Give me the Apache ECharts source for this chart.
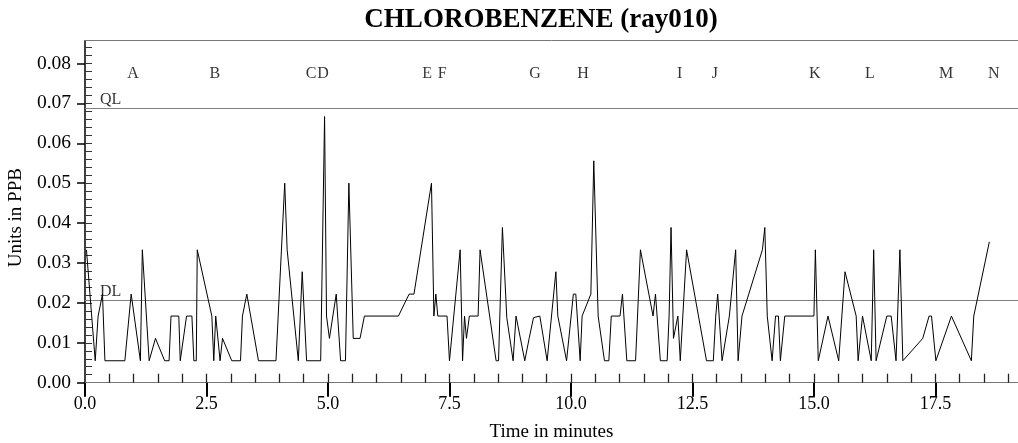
<!DOCTYPE html>
<html>
<head>
<meta charset="utf-8">
<script src="https://cdn.jsdelivr.net/npm/echarts@6/dist/echarts.min.js"></script>
<style>html,body{margin:0;padding:0;background:#fff}#c{width:1018px;height:443px}</style>
</head>
<body>
<div id="c"></div>
<script>
// ---- data ----
const times = [0.03,0.21,0.27,0.36,0.41,0.82,0.95,1.14,1.18,1.32,1.45,1.64,1.73,1.77,1.93,1.96,2.09,2.20,2.24,2.29,
  2.31,2.61,2.65,2.69,2.78,2.83,3.02,3.20,3.24,3.33,3.57,3.93,4.11,4.16,4.39,4.42,4.47,4.56,4.85,4.93,
  4.97,5.03,5.17,5.26,5.36,5.43,5.52,5.66,5.75,6.45,6.67,6.77,7.13,7.18,7.22,7.26,7.45,7.50,7.72,7.77,
  7.81,7.85,7.91,8.09,8.13,8.46,8.51,8.59,8.68,8.72,8.81,8.87,9.05,9.14,9.18,9.23,9.36,9.51,9.55,9.69,
  9.73,9.91,10.05,10.10,10.19,10.23,10.41,10.47,10.56,10.69,10.78,10.83,11.01,11.06,11.15,11.33,11.43,11.47,11.69,11.74,
  11.84,11.98,12.02,12.06,12.11,12.20,12.25,12.29,12.38,12.79,12.93,12.98,13.02,13.11,13.26,13.39,13.44,13.52,13.94,13.99,
  14.04,14.07,14.14,14.18,14.21,14.27,14.31,14.40,15.00,15.03,15.09,15.29,15.31,15.51,15.64,15.87,15.91,16.00,16.18,16.23,
  16.28,16.50,16.59,16.69,16.77,16.83,17.24,17.37,17.42,17.51,17.83,18.24,18.29,18.61];
const values = [0.0333,0.0055,0.0167,0.0222,0.0055,0.0055,0.0222,0.0055,0.0333,0.0055,0.0111,0.0055,0.0055,0.0167,0.0167,0.0055,0.0167,0.0167,0.0055,0.0055,
  0.0333,0.0167,0.0055,0.0167,0.0055,0.0111,0.0055,0.0055,0.0167,0.0222,0.0055,0.0055,0.0500,0.0333,0.0055,0.0055,0.0278,0.0055,0.0055,0.0667,
  0.0167,0.0111,0.0222,0.0055,0.0055,0.0500,0.0111,0.0111,0.0167,0.0167,0.0222,0.0222,0.0500,0.0167,0.0222,0.0167,0.0167,0.0055,0.0333,0.0055,
  0.0167,0.0111,0.0167,0.0167,0.0333,0.0055,0.0055,0.0389,0.0163,0.0167,0.0055,0.0167,0.0055,0.0111,0.0111,0.0163,0.0167,0.0055,0.0055,0.0278,
  0.0167,0.0055,0.0222,0.0222,0.0055,0.0167,0.0222,0.0556,0.0167,0.0055,0.0055,0.0167,0.0167,0.0222,0.0055,0.0055,0.0333,0.0333,0.0167,0.0222,
  0.0055,0.0055,0.0167,0.0389,0.0111,0.0167,0.0055,0.0055,0.0333,0.0055,0.0055,0.0167,0.0222,0.0055,0.0167,0.0333,0.0055,0.0167,0.0333,0.0389,
  0.0167,0.0167,0.0055,0.0055,0.0167,0.0167,0.0055,0.0167,0.0167,0.0333,0.0055,0.0167,0.0163,0.0055,0.0278,0.0167,0.0055,0.0167,0.0055,0.0333,
  0.0055,0.0167,0.0167,0.0055,0.0333,0.0055,0.0111,0.0167,0.0167,0.0055,0.0167,0.0055,0.0167,0.0353];
const peakNames = ['A','B','C','D','E','F','G','H','I','J','K','L','M','N'];
const peakTimes = [0.99,2.67,4.65,4.90,7.04,7.35,9.26,10.25,12.24,12.96,15.02,16.15,17.72,18.70];
const peakLabelLevel = 0.0774;
const limitNames = ['QL','DL'];
const limitValues = [0.0687,0.0206];
const xMajorTicks = [0,2.5,5,7.5,10,12.5,15,17.5];
const xMinorTicks = [0.5,1,1.5,2,2.5,3,3.5,4,4.5,5,5.5,6,6.5,7,7.5,8,8.5,9,9.5,10,10.5,11,11.5,12,12.5,13,13.5,14,14.5,15,15.5,16,16.5,17,17.5,18,18.5,19];
const yMajorTicks = [0,0.01,0.02,0.03,0.04,0.05,0.06,0.07,0.08];
const yMinorTicks = [0.002,0.004,0.006,0.008,0.01,0.012,0.014,0.016,0.018,0.02,0.022,0.024,0.026,0.028,0.03,0.032,0.034,0.036,0.038,0.04,
  0.042,0.044,0.046,0.048,0.05,0.052,0.054,0.056,0.058,0.06,0.062,0.064,0.066,0.068,0.07,0.072,0.074,0.076,0.078,0.08,0.082,0.084];
const xMin = 0, xMax = 19.2, yMin = 0, yMax = 0.0857;
const limitLabelTime = 0.31;

// ---- chart ----
const FONT = '"Liberation Serif","Times New Roman",serif';
const chart = echarts.init(document.getElementById('c'));
const gridBox = {left: 85, top: 40.7, right: 0, bottom: 60.3, containLabel: false, outerBoundsMode: 'none'};
const lineData = times.map((t, i) => [t, values[i]]);
const letterData = peakTimes.map((t, i) => ({value: [t, peakLabelLevel], name: peakNames[i]}));
const limitLabelData = limitNames.map((n, i) => ({value: [limitLabelTime, limitValues[i]], name: n}));

chart.setOption({
  animation: false,
  backgroundColor: '#fff',
  title: {
    text: 'CHLOROBENZENE (ray010)',
    left: 536, top: 2, textAlign: 'center',
    textStyle: {fontFamily: FONT, fontWeight: 'bold', fontSize: 27, color: '#000'}
  },
  grid: [Object.assign({}, gridBox), Object.assign({}, gridBox)],
  xAxis: [
    {gridIndex: 0, type: 'value', min: xMin, max: xMax, position: 'bottom',
      axisLine: {show: true, onZero: false, lineStyle: {color: '#777', width: 1}},
      axisTick: {show: true, inside: true, length: 9, customValues: xMinorTicks, lineStyle: {color: '#222', width: 1.3}},
      axisLabel: {show: false}, splitLine: {show: false}},
    {gridIndex: 0, type: 'value', min: xMin, max: xMax, position: 'top',
      axisLine: {show: true, onZero: false, lineStyle: {color: '#777', width: 1}},
      axisTick: {show: false}, axisLabel: {show: false}, splitLine: {show: false}},
    {gridIndex: 1, type: 'value', min: xMin, max: xMax, position: 'bottom',
      axisLine: {show: false},
      axisTick: {show: true, inside: false, length: 14, customValues: xMajorTicks, lineStyle: {color: '#000', width: 2}},
      axisLabel: {show: true, customValues: xMajorTicks, margin: 13, formatter: v => v.toFixed(1),
        fontFamily: FONT, fontSize: 18, color: '#000'},
      splitLine: {show: false},
      name: 'Time in minutes', nameLocation: 'middle', nameGap: 40,
      nameTextStyle: {fontFamily: FONT, fontSize: 19, color: '#000'}}
  ],
  yAxis: [
    {gridIndex: 0, type: 'value', min: yMin, max: yMax,
      axisLine: {show: true, onZero: false, lineStyle: {color: '#000', width: 1.5}},
      axisTick: {show: true, inside: true, length: 7, customValues: yMinorTicks, lineStyle: {color: '#333', width: 1}},
      axisLabel: {show: false}, splitLine: {show: false}},
    {gridIndex: 1, type: 'value', min: yMin, max: yMax,
      axisLine: {show: false},
      axisTick: {show: true, inside: false, length: 8, customValues: yMajorTicks, lineStyle: {color: '#000', width: 1.5}},
      axisLabel: {show: true, customValues: yMajorTicks, margin: 14, formatter: v => v.toFixed(2),
        fontFamily: FONT, fontSize: 19.5, color: '#000'},
      splitLine: {show: false},
      name: 'Units in PPB', nameLocation: 'middle', nameGap: 58, nameRotate: 90,
      nameTextStyle: {fontFamily: FONT, fontSize: 19, color: '#000', padding: [0, 12, 0, 0]}}
  ],
  series: [
    {type: 'line', xAxisIndex: 0, yAxisIndex: 0, data: lineData, symbol: 'none',
      lineStyle: {color: '#000', width: 1}, z: 5,
      markLine: {silent: true, symbol: 'none', precision: 4, label: {show: false},
        lineStyle: {color: '#808080', width: 1.2, type: 'solid'},
        data: limitValues.map(v => ({yAxis: v}))}},
    {type: 'scatter', xAxisIndex: 0, yAxisIndex: 0, data: letterData, symbolSize: 0.01, silent: true,
      label: {show: true, position: 'inside', formatter: p => p.name, fontFamily: FONT, fontSize: 16, color: '#000'}},
    {type: 'scatter', xAxisIndex: 0, yAxisIndex: 0, data: limitLabelData, symbolSize: 0.01, silent: true,
      label: {show: true, position: 'inside', align: 'left', verticalAlign: 'bottom', offset: [0, -1],
        formatter: p => p.name, fontFamily: FONT, fontSize: 16, color: '#000'}}
  ]
});
</script>
</body>
</html>
